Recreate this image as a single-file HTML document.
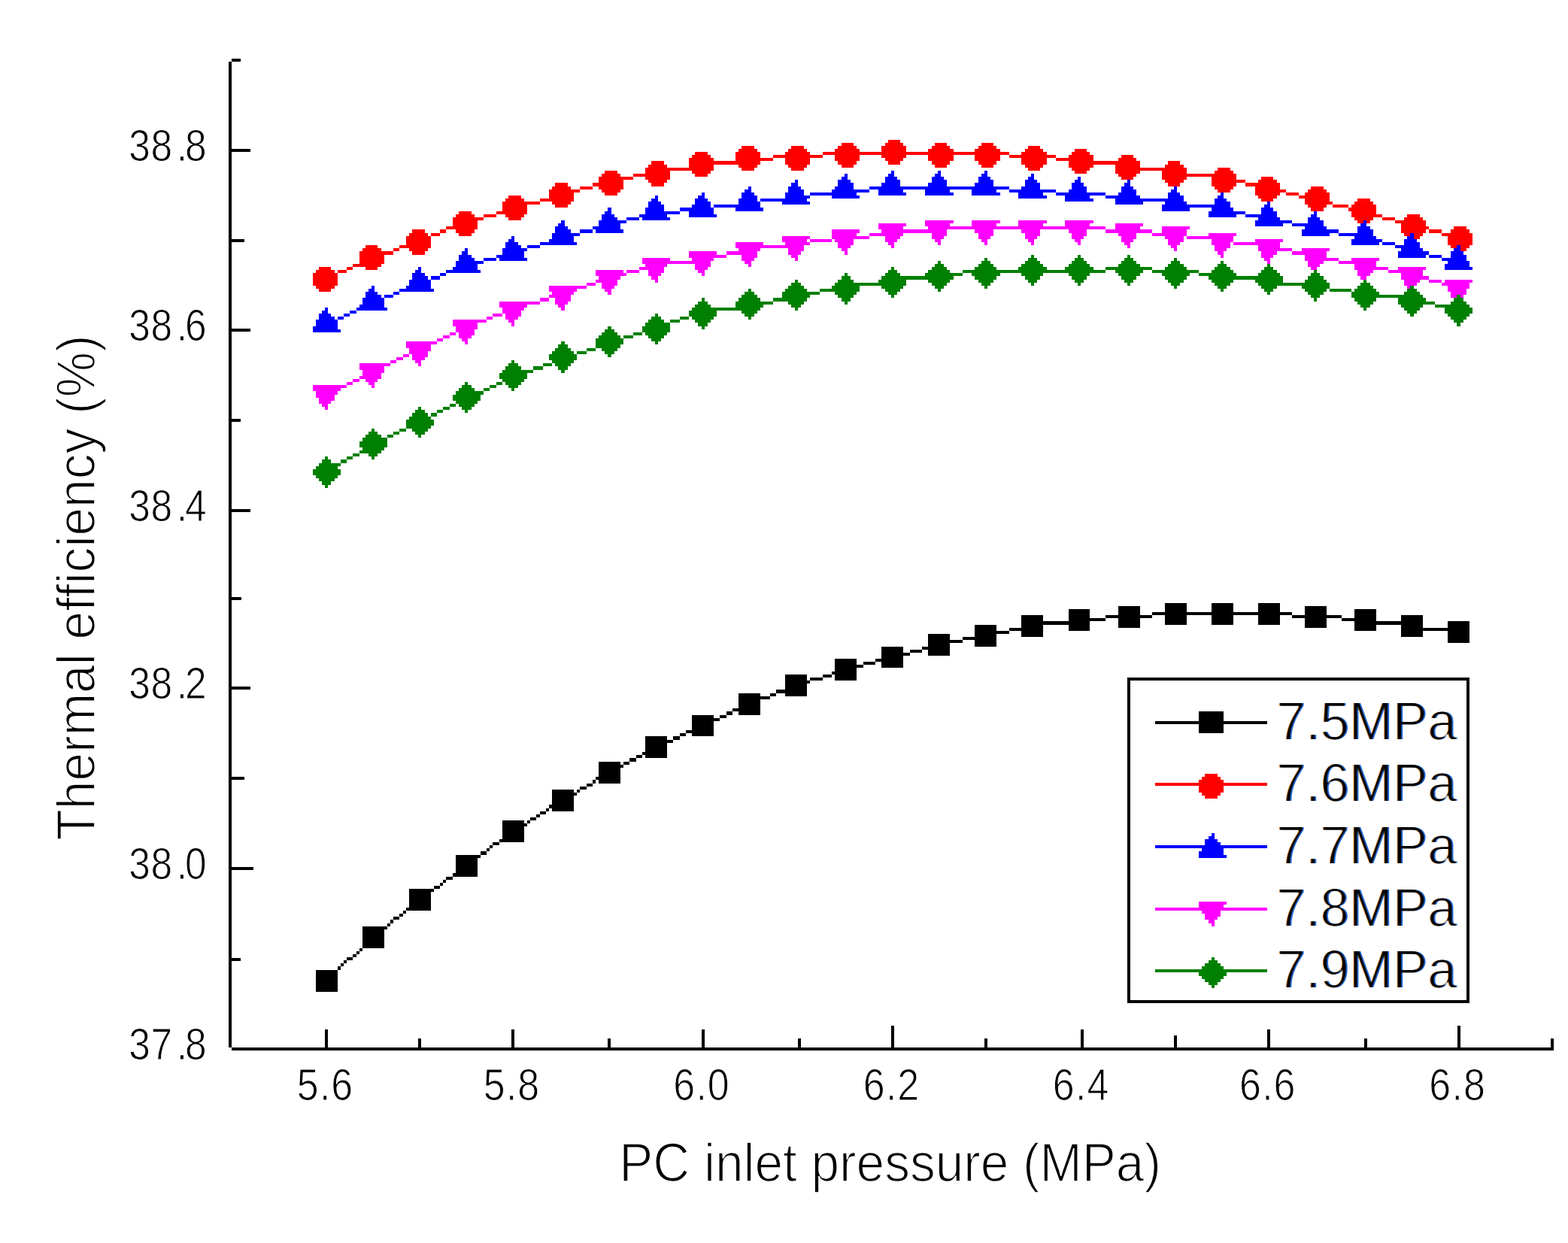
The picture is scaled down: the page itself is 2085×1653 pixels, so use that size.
<!DOCTYPE html>
<html><head><meta charset="utf-8"><title>Thermal efficiency vs PC inlet pressure</title>
<style>
html,body{margin:0;padding:0;background:#fff;}
body{width:2085px;height:1653px;overflow:hidden;}
svg{display:block;}
rect{shape-rendering:crispEdges;}
text{font-family:"Liberation Sans",Arial,sans-serif;fill:#000;stroke:#fff;stroke-width:1.1px;}
.tl{font-size:58.5px;}
.tx{font-size:59px;}
.at{font-size:71.4px;stroke-width:1.7px;}
.ay{font-size:72px;stroke-width:1.7px;}
.lg{font-size:71.8px;}
.cf{stroke:none;}
.co{fill:#e09a4c;}
.cb{fill:#3d8be0;}
.lk{stroke:none;}
</style></head>
<body>
<svg width="2085" height="1653" viewBox="0 0 2085 1653">
<defs><filter id="ct" x="-5%" y="-10%" width="110%" height="120%" color-interpolation-filters="sRGB">
<feMorphology in="SourceAlpha" operator="erode" radius="0.7" result="th"/>
<feOffset in="th" dx="-1.5" dy="0" result="l"/><feOffset in="th" dx="1.5" dy="0" result="r"/>
<feFlood flood-color="#c8741c" result="oc"/><feComposite in="oc" in2="l" operator="in" result="lo"/>
<feFlood flood-color="#1c64d0" result="bc"/><feComposite in="bc" in2="r" operator="in" result="rb"/>
<feBlend in="lo" in2="rb" mode="multiply" result="fr"/>
<feMorphology in="SourceAlpha" operator="erode" radius="1.2" result="core"/>
<feMerge><feMergeNode in="fr"/><feMergeNode in="core"/></feMerge></filter></defs>
<rect width="2085" height="1653" fill="#fff"/>
<rect x="304" y="82" width="4" height="1311" fill="#000"/>
<rect x="308" y="1393" width="1758" height="4" fill="#000"/>
<rect x="308" y="78.0" width="12.0" height="4" fill="#000"/>
<rect x="308" y="198.0" width="25.0" height="4" fill="#000"/>
<rect x="308" y="317.7" width="16.5" height="4" fill="#000"/>
<rect x="308" y="437.4" width="25.0" height="4" fill="#000"/>
<rect x="308" y="556.9" width="12.3" height="4" fill="#000"/>
<rect x="308" y="676.8" width="25.0" height="4" fill="#000"/>
<rect x="308" y="794.0" width="12.5" height="4" fill="#000"/>
<rect x="308" y="913.3" width="24.5" height="4" fill="#000"/>
<rect x="308" y="1033.0" width="16.5" height="4" fill="#000"/>
<rect x="308" y="1153.4" width="28.8" height="4" fill="#000"/>
<rect x="308" y="1273.5" width="12.3" height="4" fill="#000"/>
<rect x="432.0" y="1368.5" width="4" height="24.5" fill="#000"/>
<rect x="556.0" y="1381.0" width="4" height="12.0" fill="#000"/>
<rect x="680.0" y="1368.5" width="4" height="24.5" fill="#000"/>
<rect x="808.4" y="1381.0" width="4" height="12.0" fill="#000"/>
<rect x="932.5" y="1368.5" width="4" height="24.5" fill="#000"/>
<rect x="1060.9" y="1381.0" width="4" height="12.0" fill="#000"/>
<rect x="1185.0" y="1364.3" width="4" height="28.7" fill="#000"/>
<rect x="1309.0" y="1381.0" width="4" height="12.0" fill="#000"/>
<rect x="1437.1" y="1368.5" width="4" height="24.5" fill="#000"/>
<rect x="1561.1" y="1377.0" width="4" height="16.0" fill="#000"/>
<rect x="1685.2" y="1368.5" width="4" height="24.5" fill="#000"/>
<rect x="1813.5" y="1381.0" width="4" height="12.0" fill="#000"/>
<rect x="1937.6" y="1364.3" width="4" height="28.7" fill="#000"/>
<rect x="2062.0" y="1381.0" width="4" height="12.0" fill="#000"/>
<text transform="scale(0.88,1)" x="194.72 227.79 266.66 279.61" y="214.0" class="tl">38.8</text>
<text transform="scale(0.88,1)" x="194.72 227.79 266.66 279.61" y="453.4" class="tl">38.6</text>
<text transform="scale(0.88,1)" x="194.72 227.79 266.66 279.61" y="692.8" class="tl">38.4</text>
<text transform="scale(0.88,1)" x="194.72 227.79 266.66 279.61" y="929.3" class="tl">38.2</text>
<text transform="scale(0.88,1)" x="194.72 227.79 266.66 279.61" y="1169.4" class="tl">38.0</text>
<text transform="scale(0.88,1)" x="194.72 227.79 266.66 279.61" y="1409.0" class="tl">37.8</text>
<text transform="scale(0.88,1)" x="448.59 482.91 500.40" y="1463.5" class="tx">5.6</text>
<text transform="scale(0.88,1)" x="730.40 764.73 782.22" y="1463.5" class="tx">5.8</text>
<text transform="scale(0.88,1)" x="1017.34 1051.66 1069.15" y="1463.5" class="tx">6.0</text>
<text transform="scale(0.88,1)" x="1304.27 1338.59 1356.09" y="1463.5" class="tx">6.2</text>
<text transform="scale(0.88,1)" x="1590.75 1625.07 1642.56" y="1463.5" class="tx">6.4</text>
<text transform="scale(0.88,1)" x="1872.68 1907.00 1924.50" y="1463.5" class="tx">6.6</text>
<text transform="scale(0.88,1)" x="2159.50 2193.82 2211.31" y="1463.5" class="tx">6.8</text>
<text x="823.3" y="1570.6" class="at" textLength="720.6" lengthAdjust="spacingAndGlyphs">PC inlet pressure (MPa)</text>
<text transform="translate(125.9,1117.5) rotate(-90)" class="ay" textLength="672" lengthAdjust="spacingAndGlyphs">Thermal efficiency (%)</text>
<g fill="#000000"><rect x="1532" y="814" width="186" height="4"/><rect x="1470" y="818" width="62" height="4"/><rect x="1718" y="818" width="66" height="4"/><rect x="1421" y="822" width="49" height="4"/><rect x="1784" y="822" width="46" height="4"/><rect x="1387" y="826" width="34" height="5"/><rect x="1830" y="826" width="33" height="5"/><rect x="1363" y="831" width="24" height="4"/><rect x="1863" y="831" width="29" height="4"/><rect x="1342" y="835" width="21" height="4"/><rect x="1892" y="835" width="33" height="4"/><rect x="1321" y="839" width="21" height="4"/><rect x="1925" y="839" width="17" height="4"/><rect x="1301" y="843" width="20" height="4"/><rect x="1280" y="847" width="21" height="4"/><rect x="1259" y="851" width="21" height="4"/><rect x="1243" y="855" width="16" height="5"/><rect x="1226" y="860" width="17" height="4"/><rect x="1210" y="864" width="16" height="4"/><rect x="1193" y="868" width="17" height="4"/><rect x="1181" y="872" width="12" height="4"/><rect x="1164" y="876" width="17" height="4"/><rect x="1148" y="880" width="16" height="4"/><rect x="1131" y="884" width="17" height="4"/><rect x="1119" y="888" width="12" height="5"/><rect x="1106" y="893" width="13" height="4"/><rect x="1094" y="897" width="12" height="4"/><rect x="1077" y="901" width="17" height="4"/><rect x="1065" y="905" width="12" height="4"/><rect x="1052" y="909" width="13" height="4"/><rect x="1044" y="913" width="8" height="4"/><rect x="1032" y="917" width="12" height="5"/><rect x="1024" y="922" width="8" height="4"/><rect x="1011" y="926" width="13" height="4"/><rect x="1003" y="930" width="8" height="4"/><rect x="990" y="934" width="13" height="4"/><rect x="982" y="938" width="8" height="4"/><rect x="974" y="942" width="8" height="4"/><rect x="966" y="946" width="8" height="5"/><rect x="957" y="951" width="9" height="4"/><rect x="949" y="955" width="8" height="4"/><rect x="941" y="959" width="8" height="4"/><rect x="928" y="963" width="13" height="4"/><rect x="920" y="967" width="8" height="4"/><rect x="912" y="971" width="8" height="4"/><rect x="904" y="975" width="8" height="4"/><rect x="895" y="979" width="9" height="5"/><rect x="887" y="984" width="8" height="4"/><rect x="879" y="988" width="8" height="4"/><rect x="871" y="992" width="8" height="4"/><rect x="862" y="996" width="9" height="4"/><rect x="854" y="1000" width="8" height="4"/><rect x="846" y="1004" width="8" height="4"/><rect x="837" y="1008" width="9" height="5"/><rect x="829" y="1013" width="8" height="4"/><rect x="821" y="1017" width="8" height="4"/><rect x="813" y="1021" width="8" height="4"/><rect x="808" y="1025" width="5" height="4"/><rect x="800" y="1029" width="8" height="4"/><rect x="792" y="1033" width="8" height="4"/><rect x="788" y="1037" width="4" height="5"/><rect x="780" y="1042" width="8" height="4"/><rect x="771" y="1046" width="9" height="4"/><rect x="767" y="1050" width="4" height="4"/><rect x="759" y="1054" width="8" height="4"/><rect x="751" y="1058" width="8" height="4"/><rect x="746" y="1062" width="5" height="4"/><rect x="738" y="1066" width="8" height="4"/><rect x="730" y="1070" width="8" height="5"/><rect x="726" y="1075" width="4" height="4"/><rect x="718" y="1079" width="8" height="4"/><rect x="713" y="1083" width="5" height="4"/><rect x="705" y="1087" width="8" height="4"/><rect x="701" y="1091" width="4" height="4"/><rect x="693" y="1095" width="8" height="4"/><rect x="684" y="1099" width="9" height="5"/><rect x="680" y="1104" width="4" height="4"/><rect x="672" y="1108" width="8" height="4"/><rect x="668" y="1112" width="4" height="4"/><rect x="664" y="1116" width="4" height="4"/><rect x="655" y="1120" width="9" height="4"/><rect x="651" y="1124" width="4" height="4"/><rect x="647" y="1128" width="4" height="4"/><rect x="639" y="1132" width="8" height="5"/><rect x="635" y="1137" width="4" height="4"/><rect x="631" y="1141" width="4" height="4"/><rect x="622" y="1145" width="9" height="4"/><rect x="618" y="1149" width="4" height="4"/><rect x="610" y="1153" width="8" height="4"/><rect x="606" y="1157" width="4" height="4"/><rect x="602" y="1161" width="4" height="5"/><rect x="593" y="1166" width="9" height="4"/><rect x="589" y="1170" width="4" height="4"/><rect x="585" y="1174" width="4" height="4"/><rect x="577" y="1178" width="8" height="4"/><rect x="573" y="1182" width="4" height="4"/><rect x="569" y="1186" width="4" height="4"/><rect x="560" y="1190" width="9" height="5"/><rect x="556" y="1195" width="4" height="4"/><rect x="552" y="1199" width="4" height="4"/><rect x="544" y="1203" width="8" height="4"/><rect x="540" y="1207" width="4" height="4"/><rect x="536" y="1211" width="4" height="4"/><rect x="531" y="1215" width="5" height="4"/><rect x="523" y="1219" width="8" height="4"/><rect x="519" y="1223" width="4" height="5"/><rect x="515" y="1228" width="4" height="4"/><rect x="511" y="1232" width="4" height="4"/><rect x="502" y="1236" width="9" height="4"/><rect x="498" y="1240" width="4" height="4"/><rect x="494" y="1244" width="4" height="4"/><rect x="490" y="1248" width="4" height="4"/><rect x="486" y="1252" width="4" height="5"/><rect x="482" y="1257" width="4" height="4"/><rect x="478" y="1261" width="4" height="4"/><rect x="474" y="1265" width="4" height="4"/><rect x="469" y="1269" width="5" height="4"/><rect x="461" y="1273" width="8" height="4"/><rect x="457" y="1277" width="4" height="4"/><rect x="453" y="1281" width="4" height="4"/><rect x="449" y="1285" width="4" height="5"/><rect x="445" y="1290" width="4" height="4"/><rect x="440" y="1294" width="5" height="4"/><rect x="436" y="1298" width="4" height="4"/><rect x="432" y="1302" width="4" height="4"/></g>
<g fill="#000000"><rect x="1549" y="802" width="29" height="4"/><rect x="1611" y="802" width="29" height="4"/><rect x="1673" y="802" width="29" height="4"/><rect x="1487" y="806" width="29" height="4"/><rect x="1549" y="806" width="29" height="4"/><rect x="1611" y="806" width="29" height="4"/><rect x="1673" y="806" width="29" height="4"/><rect x="1735" y="806" width="29" height="4"/><rect x="1421" y="810" width="28" height="4"/><rect x="1487" y="810" width="29" height="4"/><rect x="1549" y="810" width="29" height="4"/><rect x="1611" y="810" width="29" height="4"/><rect x="1673" y="810" width="29" height="4"/><rect x="1735" y="810" width="29" height="4"/><rect x="1801" y="810" width="29" height="4"/><rect x="1421" y="814" width="28" height="4"/><rect x="1487" y="814" width="29" height="4"/><rect x="1549" y="814" width="29" height="4"/><rect x="1611" y="814" width="29" height="4"/><rect x="1673" y="814" width="29" height="4"/><rect x="1735" y="814" width="29" height="4"/><rect x="1801" y="814" width="29" height="4"/><rect x="1358" y="818" width="29" height="4"/><rect x="1421" y="818" width="28" height="4"/><rect x="1487" y="818" width="29" height="4"/><rect x="1549" y="818" width="29" height="4"/><rect x="1611" y="818" width="29" height="4"/><rect x="1673" y="818" width="29" height="4"/><rect x="1735" y="818" width="29" height="4"/><rect x="1801" y="818" width="29" height="4"/><rect x="1863" y="818" width="29" height="4"/><rect x="1358" y="822" width="29" height="4"/><rect x="1421" y="822" width="28" height="4"/><rect x="1487" y="822" width="29" height="4"/><rect x="1549" y="822" width="29" height="4"/><rect x="1611" y="822" width="29" height="4"/><rect x="1673" y="822" width="29" height="4"/><rect x="1735" y="822" width="29" height="4"/><rect x="1801" y="822" width="29" height="4"/><rect x="1863" y="822" width="29" height="4"/><rect x="1358" y="826" width="29" height="5"/><rect x="1421" y="826" width="28" height="5"/><rect x="1487" y="826" width="29" height="5"/><rect x="1549" y="826" width="29" height="5"/><rect x="1611" y="826" width="29" height="5"/><rect x="1673" y="826" width="29" height="5"/><rect x="1735" y="826" width="29" height="5"/><rect x="1801" y="826" width="29" height="5"/><rect x="1863" y="826" width="29" height="5"/><rect x="1925" y="826" width="29" height="5"/><rect x="1296" y="831" width="29" height="4"/><rect x="1358" y="831" width="29" height="4"/><rect x="1421" y="831" width="28" height="4"/><rect x="1487" y="831" width="29" height="4"/><rect x="1735" y="831" width="29" height="4"/><rect x="1801" y="831" width="29" height="4"/><rect x="1863" y="831" width="29" height="4"/><rect x="1925" y="831" width="29" height="4"/><rect x="1296" y="835" width="29" height="4"/><rect x="1358" y="835" width="29" height="4"/><rect x="1421" y="835" width="28" height="4"/><rect x="1801" y="835" width="29" height="4"/><rect x="1863" y="835" width="29" height="4"/><rect x="1925" y="835" width="29" height="4"/><rect x="1296" y="839" width="29" height="4"/><rect x="1358" y="839" width="29" height="4"/><rect x="1863" y="839" width="29" height="4"/><rect x="1925" y="839" width="29" height="4"/><rect x="1234" y="843" width="29" height="4"/><rect x="1296" y="843" width="29" height="4"/><rect x="1358" y="843" width="29" height="4"/><rect x="1863" y="843" width="29" height="4"/><rect x="1925" y="843" width="29" height="4"/><rect x="1234" y="847" width="29" height="4"/><rect x="1296" y="847" width="29" height="4"/><rect x="1925" y="847" width="29" height="4"/><rect x="1234" y="851" width="29" height="4"/><rect x="1296" y="851" width="29" height="4"/><rect x="1925" y="851" width="29" height="4"/><rect x="1234" y="855" width="29" height="5"/><rect x="1296" y="855" width="29" height="5"/><rect x="1172" y="860" width="29" height="4"/><rect x="1234" y="860" width="29" height="4"/><rect x="1172" y="864" width="29" height="4"/><rect x="1234" y="864" width="29" height="4"/><rect x="1172" y="868" width="29" height="4"/><rect x="1234" y="868" width="29" height="4"/><rect x="1172" y="872" width="29" height="4"/><rect x="1110" y="876" width="29" height="4"/><rect x="1172" y="876" width="29" height="4"/><rect x="1110" y="880" width="29" height="4"/><rect x="1172" y="880" width="29" height="4"/><rect x="1110" y="884" width="29" height="4"/><rect x="1172" y="884" width="29" height="4"/><rect x="1110" y="888" width="29" height="5"/><rect x="1110" y="893" width="29" height="4"/><rect x="1044" y="897" width="29" height="4"/><rect x="1110" y="897" width="29" height="4"/><rect x="1044" y="901" width="29" height="4"/><rect x="1110" y="901" width="29" height="4"/><rect x="1044" y="905" width="29" height="4"/><rect x="1044" y="909" width="29" height="4"/><rect x="1044" y="913" width="29" height="4"/><rect x="1044" y="917" width="29" height="5"/><rect x="982" y="922" width="29" height="4"/><rect x="1044" y="922" width="29" height="4"/><rect x="982" y="926" width="29" height="4"/><rect x="982" y="930" width="29" height="4"/><rect x="982" y="934" width="29" height="4"/><rect x="982" y="938" width="29" height="4"/><rect x="982" y="942" width="29" height="4"/><rect x="982" y="946" width="29" height="5"/><rect x="920" y="951" width="29" height="4"/><rect x="920" y="955" width="29" height="4"/><rect x="920" y="959" width="29" height="4"/><rect x="920" y="963" width="29" height="4"/><rect x="920" y="967" width="29" height="4"/><rect x="920" y="971" width="29" height="4"/><rect x="920" y="975" width="29" height="4"/><rect x="858" y="979" width="29" height="5"/><rect x="858" y="984" width="29" height="4"/><rect x="858" y="988" width="29" height="4"/><rect x="858" y="992" width="29" height="4"/><rect x="858" y="996" width="29" height="4"/><rect x="858" y="1000" width="29" height="4"/><rect x="858" y="1004" width="29" height="4"/><rect x="796" y="1013" width="29" height="4"/><rect x="796" y="1017" width="29" height="4"/><rect x="796" y="1021" width="29" height="4"/><rect x="796" y="1025" width="29" height="4"/><rect x="796" y="1029" width="29" height="4"/><rect x="796" y="1033" width="29" height="4"/><rect x="796" y="1037" width="29" height="5"/><rect x="734" y="1050" width="29" height="4"/><rect x="734" y="1054" width="29" height="4"/><rect x="734" y="1058" width="29" height="4"/><rect x="734" y="1062" width="29" height="4"/><rect x="734" y="1066" width="29" height="4"/><rect x="734" y="1070" width="29" height="5"/><rect x="734" y="1075" width="29" height="4"/><rect x="668" y="1091" width="29" height="4"/><rect x="668" y="1095" width="29" height="4"/><rect x="668" y="1099" width="29" height="5"/><rect x="668" y="1104" width="29" height="4"/><rect x="668" y="1108" width="29" height="4"/><rect x="668" y="1112" width="29" height="4"/><rect x="668" y="1116" width="29" height="4"/><rect x="606" y="1137" width="29" height="4"/><rect x="606" y="1141" width="29" height="4"/><rect x="606" y="1145" width="29" height="4"/><rect x="606" y="1149" width="29" height="4"/><rect x="606" y="1153" width="29" height="4"/><rect x="606" y="1157" width="29" height="4"/><rect x="606" y="1161" width="29" height="5"/><rect x="544" y="1182" width="29" height="4"/><rect x="544" y="1186" width="29" height="4"/><rect x="544" y="1190" width="29" height="5"/><rect x="544" y="1195" width="29" height="4"/><rect x="544" y="1199" width="29" height="4"/><rect x="544" y="1203" width="29" height="4"/><rect x="544" y="1207" width="29" height="4"/><rect x="482" y="1232" width="29" height="4"/><rect x="482" y="1236" width="29" height="4"/><rect x="482" y="1240" width="29" height="4"/><rect x="482" y="1244" width="29" height="4"/><rect x="482" y="1248" width="29" height="4"/><rect x="482" y="1252" width="29" height="5"/><rect x="482" y="1257" width="29" height="4"/><rect x="420" y="1290" width="29" height="4"/><rect x="420" y="1294" width="29" height="4"/><rect x="420" y="1298" width="29" height="4"/><rect x="420" y="1302" width="29" height="4"/><rect x="420" y="1306" width="29" height="4"/><rect x="420" y="1310" width="29" height="4"/><rect x="420" y="1314" width="29" height="5"/></g>
<g fill="#ff0000"><rect x="1094" y="202" width="248" height="4"/><rect x="1028" y="206" width="66" height="4"/><rect x="1342" y="206" width="62" height="4"/><rect x="982" y="210" width="46" height="4"/><rect x="1404" y="210" width="50" height="4"/><rect x="949" y="214" width="33" height="5"/><rect x="1454" y="214" width="29" height="5"/><rect x="920" y="219" width="29" height="4"/><rect x="1483" y="219" width="33" height="4"/><rect x="887" y="223" width="33" height="4"/><rect x="1516" y="223" width="33" height="4"/><rect x="862" y="227" width="25" height="4"/><rect x="1549" y="227" width="29" height="4"/><rect x="842" y="231" width="20" height="4"/><rect x="1578" y="231" width="33" height="4"/><rect x="821" y="235" width="21" height="4"/><rect x="1611" y="235" width="25" height="4"/><rect x="804" y="239" width="17" height="4"/><rect x="1636" y="239" width="20" height="4"/><rect x="788" y="243" width="16" height="5"/><rect x="1656" y="243" width="21" height="5"/><rect x="771" y="248" width="17" height="4"/><rect x="1677" y="248" width="16" height="4"/><rect x="755" y="252" width="16" height="4"/><rect x="1693" y="252" width="17" height="4"/><rect x="742" y="256" width="13" height="4"/><rect x="1710" y="256" width="17" height="4"/><rect x="730" y="260" width="12" height="4"/><rect x="1727" y="260" width="16" height="4"/><rect x="718" y="264" width="12" height="4"/><rect x="1743" y="264" width="17" height="4"/><rect x="701" y="268" width="17" height="4"/><rect x="1760" y="268" width="12" height="4"/><rect x="689" y="272" width="12" height="4"/><rect x="1772" y="272" width="21" height="4"/><rect x="676" y="276" width="13" height="5"/><rect x="1793" y="276" width="12" height="5"/><rect x="660" y="281" width="16" height="4"/><rect x="1805" y="281" width="17" height="4"/><rect x="643" y="285" width="17" height="4"/><rect x="1822" y="285" width="16" height="4"/><rect x="627" y="289" width="16" height="4"/><rect x="1838" y="289" width="17" height="4"/><rect x="614" y="293" width="13" height="4"/><rect x="1855" y="293" width="16" height="4"/><rect x="606" y="297" width="8" height="4"/><rect x="1871" y="297" width="13" height="4"/><rect x="593" y="301" width="13" height="4"/><rect x="1884" y="301" width="16" height="4"/><rect x="585" y="305" width="8" height="5"/><rect x="1900" y="305" width="17" height="5"/><rect x="573" y="310" width="12" height="4"/><rect x="1917" y="310" width="16" height="4"/><rect x="565" y="314" width="8" height="4"/><rect x="1933" y="314" width="9" height="4"/><rect x="552" y="318" width="13" height="4"/><rect x="544" y="322" width="8" height="4"/><rect x="531" y="326" width="13" height="4"/><rect x="523" y="330" width="8" height="4"/><rect x="511" y="334" width="12" height="5"/><rect x="502" y="339" width="9" height="4"/><rect x="490" y="343" width="12" height="4"/><rect x="482" y="347" width="8" height="4"/><rect x="469" y="351" width="13" height="4"/><rect x="461" y="355" width="8" height="4"/><rect x="449" y="359" width="12" height="4"/><rect x="440" y="363" width="9" height="4"/><rect x="432" y="367" width="8" height="5"/></g>
<g fill="#ff0000"><rect x="1181" y="186" width="16" height="4"/><rect x="1119" y="190" width="16" height="4"/><rect x="1177" y="190" width="24" height="4"/><rect x="1243" y="190" width="16" height="4"/><rect x="1305" y="190" width="16" height="4"/><rect x="986" y="194" width="17" height="4"/><rect x="1052" y="194" width="17" height="4"/><rect x="1114" y="194" width="25" height="4"/><rect x="1172" y="194" width="33" height="4"/><rect x="1239" y="194" width="24" height="4"/><rect x="1301" y="194" width="24" height="4"/><rect x="1367" y="194" width="16" height="4"/><rect x="982" y="198" width="25" height="4"/><rect x="1048" y="198" width="25" height="4"/><rect x="1110" y="198" width="33" height="4"/><rect x="1172" y="198" width="33" height="4"/><rect x="1234" y="198" width="34" height="4"/><rect x="1296" y="198" width="34" height="4"/><rect x="1363" y="198" width="24" height="4"/><rect x="1429" y="198" width="16" height="4"/><rect x="924" y="202" width="17" height="4"/><rect x="978" y="202" width="33" height="4"/><rect x="1044" y="202" width="33" height="4"/><rect x="1110" y="202" width="33" height="4"/><rect x="1172" y="202" width="33" height="4"/><rect x="1234" y="202" width="34" height="4"/><rect x="1296" y="202" width="34" height="4"/><rect x="1358" y="202" width="34" height="4"/><rect x="1425" y="202" width="24" height="4"/><rect x="920" y="206" width="25" height="4"/><rect x="978" y="206" width="33" height="4"/><rect x="1044" y="206" width="33" height="4"/><rect x="1110" y="206" width="33" height="4"/><rect x="1172" y="206" width="33" height="4"/><rect x="1234" y="206" width="34" height="4"/><rect x="1296" y="206" width="34" height="4"/><rect x="1358" y="206" width="34" height="4"/><rect x="1421" y="206" width="33" height="4"/><rect x="1491" y="206" width="16" height="4"/><rect x="916" y="210" width="33" height="4"/><rect x="978" y="210" width="33" height="4"/><rect x="1044" y="210" width="33" height="4"/><rect x="1110" y="210" width="33" height="4"/><rect x="1177" y="210" width="24" height="4"/><rect x="1234" y="210" width="34" height="4"/><rect x="1296" y="210" width="34" height="4"/><rect x="1358" y="210" width="34" height="4"/><rect x="1421" y="210" width="33" height="4"/><rect x="1487" y="210" width="24" height="4"/><rect x="866" y="214" width="17" height="5"/><rect x="916" y="214" width="33" height="5"/><rect x="978" y="214" width="33" height="5"/><rect x="1044" y="214" width="33" height="5"/><rect x="1114" y="214" width="25" height="5"/><rect x="1181" y="214" width="16" height="5"/><rect x="1239" y="214" width="24" height="5"/><rect x="1301" y="214" width="24" height="5"/><rect x="1358" y="214" width="34" height="5"/><rect x="1421" y="214" width="33" height="5"/><rect x="1483" y="214" width="33" height="5"/><rect x="1553" y="214" width="16" height="5"/><rect x="862" y="219" width="25" height="4"/><rect x="916" y="219" width="33" height="4"/><rect x="982" y="219" width="25" height="4"/><rect x="1048" y="219" width="25" height="4"/><rect x="1119" y="219" width="16" height="4"/><rect x="1243" y="219" width="16" height="4"/><rect x="1305" y="219" width="16" height="4"/><rect x="1363" y="219" width="24" height="4"/><rect x="1421" y="219" width="33" height="4"/><rect x="1483" y="219" width="33" height="4"/><rect x="1549" y="219" width="25" height="4"/><rect x="858" y="223" width="33" height="4"/><rect x="916" y="223" width="33" height="4"/><rect x="986" y="223" width="17" height="4"/><rect x="1052" y="223" width="17" height="4"/><rect x="1367" y="223" width="16" height="4"/><rect x="1425" y="223" width="24" height="4"/><rect x="1483" y="223" width="33" height="4"/><rect x="1545" y="223" width="33" height="4"/><rect x="1619" y="223" width="17" height="4"/><rect x="804" y="227" width="17" height="4"/><rect x="858" y="227" width="33" height="4"/><rect x="920" y="227" width="25" height="4"/><rect x="1429" y="227" width="16" height="4"/><rect x="1483" y="227" width="33" height="4"/><rect x="1545" y="227" width="33" height="4"/><rect x="1615" y="227" width="25" height="4"/><rect x="800" y="231" width="25" height="4"/><rect x="858" y="231" width="33" height="4"/><rect x="924" y="231" width="17" height="4"/><rect x="1487" y="231" width="24" height="4"/><rect x="1545" y="231" width="33" height="4"/><rect x="1611" y="231" width="33" height="4"/><rect x="796" y="235" width="33" height="4"/><rect x="858" y="235" width="33" height="4"/><rect x="1491" y="235" width="16" height="4"/><rect x="1545" y="235" width="33" height="4"/><rect x="1611" y="235" width="33" height="4"/><rect x="1677" y="235" width="16" height="4"/><rect x="796" y="239" width="33" height="4"/><rect x="862" y="239" width="25" height="4"/><rect x="1549" y="239" width="25" height="4"/><rect x="1611" y="239" width="33" height="4"/><rect x="1673" y="239" width="25" height="4"/><rect x="738" y="243" width="17" height="5"/><rect x="796" y="243" width="33" height="5"/><rect x="866" y="243" width="17" height="5"/><rect x="1553" y="243" width="16" height="5"/><rect x="1611" y="243" width="33" height="5"/><rect x="1669" y="243" width="33" height="5"/><rect x="734" y="248" width="25" height="4"/><rect x="796" y="248" width="33" height="4"/><rect x="1615" y="248" width="25" height="4"/><rect x="1669" y="248" width="33" height="4"/><rect x="1743" y="248" width="17" height="4"/><rect x="730" y="252" width="33" height="4"/><rect x="800" y="252" width="25" height="4"/><rect x="1619" y="252" width="17" height="4"/><rect x="1669" y="252" width="33" height="4"/><rect x="1739" y="252" width="25" height="4"/><rect x="730" y="256" width="33" height="4"/><rect x="804" y="256" width="17" height="4"/><rect x="1669" y="256" width="33" height="4"/><rect x="1735" y="256" width="33" height="4"/><rect x="676" y="260" width="17" height="4"/><rect x="730" y="260" width="33" height="4"/><rect x="1673" y="260" width="25" height="4"/><rect x="1735" y="260" width="33" height="4"/><rect x="672" y="264" width="25" height="4"/><rect x="730" y="264" width="33" height="4"/><rect x="1677" y="264" width="16" height="4"/><rect x="1735" y="264" width="33" height="4"/><rect x="1805" y="264" width="17" height="4"/><rect x="668" y="268" width="33" height="4"/><rect x="734" y="268" width="25" height="4"/><rect x="1735" y="268" width="33" height="4"/><rect x="1801" y="268" width="25" height="4"/><rect x="668" y="272" width="33" height="4"/><rect x="738" y="272" width="17" height="4"/><rect x="1739" y="272" width="25" height="4"/><rect x="1797" y="272" width="33" height="4"/><rect x="668" y="276" width="33" height="5"/><rect x="1743" y="276" width="17" height="5"/><rect x="1797" y="276" width="33" height="5"/><rect x="610" y="281" width="17" height="4"/><rect x="668" y="281" width="33" height="4"/><rect x="1797" y="281" width="33" height="4"/><rect x="606" y="285" width="25" height="4"/><rect x="672" y="285" width="25" height="4"/><rect x="1797" y="285" width="33" height="4"/><rect x="1871" y="285" width="17" height="4"/><rect x="602" y="289" width="33" height="4"/><rect x="676" y="289" width="17" height="4"/><rect x="1801" y="289" width="25" height="4"/><rect x="1867" y="289" width="25" height="4"/><rect x="602" y="293" width="33" height="4"/><rect x="1805" y="293" width="17" height="4"/><rect x="1863" y="293" width="33" height="4"/><rect x="602" y="297" width="33" height="4"/><rect x="1863" y="297" width="33" height="4"/><rect x="602" y="301" width="33" height="4"/><rect x="1863" y="301" width="33" height="4"/><rect x="1933" y="301" width="17" height="4"/><rect x="548" y="305" width="17" height="5"/><rect x="606" y="305" width="25" height="5"/><rect x="1863" y="305" width="33" height="5"/><rect x="1929" y="305" width="25" height="5"/><rect x="544" y="310" width="25" height="4"/><rect x="610" y="310" width="17" height="4"/><rect x="1867" y="310" width="25" height="4"/><rect x="1925" y="310" width="33" height="4"/><rect x="540" y="314" width="33" height="4"/><rect x="1871" y="314" width="17" height="4"/><rect x="1925" y="314" width="33" height="4"/><rect x="540" y="318" width="33" height="4"/><rect x="1925" y="318" width="33" height="4"/><rect x="540" y="322" width="33" height="4"/><rect x="1925" y="322" width="33" height="4"/><rect x="486" y="326" width="16" height="4"/><rect x="540" y="326" width="33" height="4"/><rect x="1929" y="326" width="25" height="4"/><rect x="482" y="330" width="25" height="4"/><rect x="544" y="330" width="25" height="4"/><rect x="1933" y="330" width="17" height="4"/><rect x="478" y="334" width="33" height="5"/><rect x="548" y="334" width="17" height="5"/><rect x="478" y="339" width="33" height="4"/><rect x="478" y="343" width="33" height="4"/><rect x="478" y="347" width="33" height="4"/><rect x="482" y="351" width="25" height="4"/><rect x="424" y="355" width="16" height="4"/><rect x="486" y="355" width="16" height="4"/><rect x="420" y="359" width="25" height="4"/><rect x="416" y="363" width="33" height="4"/><rect x="416" y="367" width="33" height="5"/><rect x="416" y="372" width="33" height="4"/><rect x="416" y="376" width="33" height="4"/><rect x="420" y="380" width="25" height="4"/><rect x="424" y="384" width="16" height="4"/></g>
<g fill="#0000ff"><rect x="1156" y="248" width="186" height="4"/><rect x="1106" y="252" width="50" height="4"/><rect x="1342" y="252" width="62" height="4"/><rect x="1077" y="256" width="29" height="4"/><rect x="1404" y="256" width="66" height="4"/><rect x="1044" y="260" width="33" height="4"/><rect x="1470" y="260" width="46" height="4"/><rect x="1011" y="264" width="33" height="4"/><rect x="1516" y="264" width="33" height="4"/><rect x="982" y="268" width="29" height="4"/><rect x="1549" y="268" width="29" height="4"/><rect x="949" y="272" width="33" height="4"/><rect x="1578" y="272" width="33" height="4"/><rect x="904" y="276" width="45" height="5"/><rect x="1611" y="276" width="25" height="5"/><rect x="866" y="281" width="38" height="4"/><rect x="1636" y="281" width="20" height="4"/><rect x="850" y="285" width="16" height="4"/><rect x="1656" y="285" width="21" height="4"/><rect x="833" y="289" width="17" height="4"/><rect x="1677" y="289" width="21" height="4"/><rect x="817" y="293" width="16" height="4"/><rect x="1698" y="293" width="20" height="4"/><rect x="804" y="297" width="13" height="4"/><rect x="1718" y="297" width="21" height="4"/><rect x="788" y="301" width="16" height="4"/><rect x="1739" y="301" width="21" height="4"/><rect x="771" y="305" width="17" height="5"/><rect x="1760" y="305" width="20" height="5"/><rect x="755" y="310" width="16" height="4"/><rect x="1780" y="310" width="25" height="4"/><rect x="742" y="314" width="13" height="4"/><rect x="1805" y="314" width="17" height="4"/><rect x="730" y="318" width="12" height="4"/><rect x="1822" y="318" width="16" height="4"/><rect x="718" y="322" width="12" height="4"/><rect x="1838" y="322" width="17" height="4"/><rect x="701" y="326" width="17" height="4"/><rect x="1855" y="326" width="16" height="4"/><rect x="689" y="330" width="12" height="4"/><rect x="1871" y="330" width="13" height="4"/><rect x="676" y="334" width="13" height="5"/><rect x="1884" y="334" width="16" height="5"/><rect x="660" y="339" width="16" height="4"/><rect x="1900" y="339" width="17" height="4"/><rect x="643" y="343" width="17" height="4"/><rect x="1917" y="343" width="16" height="4"/><rect x="627" y="347" width="16" height="4"/><rect x="1933" y="347" width="9" height="4"/><rect x="614" y="351" width="13" height="4"/><rect x="606" y="355" width="8" height="4"/><rect x="593" y="359" width="13" height="4"/><rect x="585" y="363" width="8" height="4"/><rect x="573" y="367" width="12" height="5"/><rect x="565" y="372" width="8" height="4"/><rect x="552" y="376" width="13" height="4"/><rect x="544" y="380" width="8" height="4"/><rect x="531" y="384" width="13" height="4"/><rect x="523" y="388" width="8" height="4"/><rect x="511" y="392" width="12" height="4"/><rect x="502" y="396" width="9" height="5"/><rect x="490" y="401" width="12" height="4"/><rect x="482" y="405" width="8" height="4"/><rect x="474" y="409" width="8" height="4"/><rect x="465" y="413" width="9" height="4"/><rect x="457" y="417" width="8" height="4"/><rect x="449" y="421" width="8" height="4"/><rect x="440" y="425" width="9" height="4"/><rect x="432" y="429" width="8" height="5"/></g>
<g fill="#0000ff"><rect x="1185" y="227" width="4" height="4"/><rect x="1247" y="227" width="4" height="4"/><rect x="1309" y="227" width="4" height="4"/><rect x="1123" y="231" width="4" height="4"/><rect x="1181" y="231" width="8" height="4"/><rect x="1243" y="231" width="8" height="4"/><rect x="1305" y="231" width="8" height="4"/><rect x="1371" y="231" width="4" height="4"/><rect x="1119" y="235" width="8" height="4"/><rect x="1177" y="235" width="16" height="4"/><rect x="1239" y="235" width="16" height="4"/><rect x="1301" y="235" width="16" height="4"/><rect x="1367" y="235" width="8" height="4"/><rect x="1433" y="235" width="4" height="4"/><rect x="1057" y="239" width="4" height="4"/><rect x="1114" y="239" width="17" height="4"/><rect x="1177" y="239" width="20" height="4"/><rect x="1239" y="239" width="20" height="4"/><rect x="1301" y="239" width="20" height="4"/><rect x="1363" y="239" width="16" height="4"/><rect x="1429" y="239" width="8" height="4"/><rect x="1499" y="239" width="4" height="4"/><rect x="1052" y="243" width="9" height="5"/><rect x="1114" y="243" width="21" height="5"/><rect x="1172" y="243" width="25" height="5"/><rect x="1234" y="243" width="25" height="5"/><rect x="1296" y="243" width="25" height="5"/><rect x="1363" y="243" width="20" height="5"/><rect x="1425" y="243" width="16" height="5"/><rect x="1495" y="243" width="8" height="5"/><rect x="995" y="248" width="4" height="4"/><rect x="1048" y="248" width="17" height="4"/><rect x="1110" y="248" width="25" height="4"/><rect x="1172" y="248" width="29" height="4"/><rect x="1234" y="248" width="29" height="4"/><rect x="1296" y="248" width="29" height="4"/><rect x="1358" y="248" width="25" height="4"/><rect x="1425" y="248" width="20" height="4"/><rect x="1491" y="248" width="16" height="4"/><rect x="1561" y="248" width="4" height="4"/><rect x="990" y="252" width="9" height="4"/><rect x="1048" y="252" width="21" height="4"/><rect x="1110" y="252" width="29" height="4"/><rect x="1168" y="252" width="33" height="4"/><rect x="1230" y="252" width="33" height="4"/><rect x="1292" y="252" width="33" height="4"/><rect x="1358" y="252" width="29" height="4"/><rect x="1421" y="252" width="24" height="4"/><rect x="1491" y="252" width="20" height="4"/><rect x="1557" y="252" width="8" height="4"/><rect x="933" y="256" width="4" height="4"/><rect x="986" y="256" width="17" height="4"/><rect x="1044" y="256" width="25" height="4"/><rect x="1106" y="256" width="33" height="4"/><rect x="1168" y="256" width="37" height="4"/><rect x="1230" y="256" width="38" height="4"/><rect x="1292" y="256" width="38" height="4"/><rect x="1354" y="256" width="33" height="4"/><rect x="1421" y="256" width="28" height="4"/><rect x="1487" y="256" width="24" height="4"/><rect x="1553" y="256" width="16" height="4"/><rect x="1623" y="256" width="4" height="4"/><rect x="871" y="260" width="4" height="4"/><rect x="928" y="260" width="9" height="4"/><rect x="986" y="260" width="21" height="4"/><rect x="1044" y="260" width="29" height="4"/><rect x="1106" y="260" width="37" height="4"/><rect x="1354" y="260" width="38" height="4"/><rect x="1416" y="260" width="33" height="4"/><rect x="1487" y="260" width="29" height="4"/><rect x="1553" y="260" width="21" height="4"/><rect x="1619" y="260" width="8" height="4"/><rect x="866" y="264" width="9" height="4"/><rect x="924" y="264" width="17" height="4"/><rect x="982" y="264" width="25" height="4"/><rect x="1040" y="264" width="33" height="4"/><rect x="1416" y="264" width="38" height="4"/><rect x="1483" y="264" width="33" height="4"/><rect x="1549" y="264" width="25" height="4"/><rect x="1615" y="264" width="16" height="4"/><rect x="862" y="268" width="17" height="4"/><rect x="924" y="268" width="21" height="4"/><rect x="982" y="268" width="29" height="4"/><rect x="1040" y="268" width="37" height="4"/><rect x="1483" y="268" width="37" height="4"/><rect x="1549" y="268" width="29" height="4"/><rect x="1615" y="268" width="21" height="4"/><rect x="1685" y="268" width="4" height="4"/><rect x="862" y="272" width="21" height="4"/><rect x="920" y="272" width="25" height="4"/><rect x="978" y="272" width="33" height="4"/><rect x="1545" y="272" width="33" height="4"/><rect x="1611" y="272" width="25" height="4"/><rect x="1681" y="272" width="8" height="4"/><rect x="808" y="276" width="5" height="5"/><rect x="858" y="276" width="25" height="5"/><rect x="920" y="276" width="29" height="5"/><rect x="978" y="276" width="37" height="5"/><rect x="1545" y="276" width="37" height="5"/><rect x="1611" y="276" width="29" height="5"/><rect x="1677" y="276" width="16" height="5"/><rect x="804" y="281" width="9" height="4"/><rect x="858" y="281" width="29" height="4"/><rect x="916" y="281" width="33" height="4"/><rect x="1607" y="281" width="33" height="4"/><rect x="1677" y="281" width="21" height="4"/><rect x="1747" y="281" width="4" height="4"/><rect x="800" y="285" width="17" height="4"/><rect x="854" y="285" width="33" height="4"/><rect x="916" y="285" width="37" height="4"/><rect x="1607" y="285" width="37" height="4"/><rect x="1673" y="285" width="25" height="4"/><rect x="1743" y="285" width="8" height="4"/><rect x="800" y="289" width="21" height="4"/><rect x="854" y="289" width="37" height="4"/><rect x="1673" y="289" width="29" height="4"/><rect x="1739" y="289" width="16" height="4"/><rect x="746" y="293" width="5" height="4"/><rect x="796" y="293" width="25" height="4"/><rect x="1669" y="293" width="33" height="4"/><rect x="1739" y="293" width="21" height="4"/><rect x="1813" y="293" width="4" height="4"/><rect x="742" y="297" width="9" height="4"/><rect x="796" y="297" width="29" height="4"/><rect x="1669" y="297" width="37" height="4"/><rect x="1735" y="297" width="25" height="4"/><rect x="1809" y="297" width="8" height="4"/><rect x="738" y="301" width="17" height="4"/><rect x="792" y="301" width="33" height="4"/><rect x="1735" y="301" width="29" height="4"/><rect x="1805" y="301" width="17" height="4"/><rect x="738" y="305" width="21" height="5"/><rect x="792" y="305" width="37" height="5"/><rect x="1731" y="305" width="33" height="5"/><rect x="1805" y="305" width="21" height="5"/><rect x="734" y="310" width="25" height="4"/><rect x="1731" y="310" width="37" height="4"/><rect x="1801" y="310" width="25" height="4"/><rect x="1875" y="310" width="5" height="4"/><rect x="680" y="314" width="4" height="4"/><rect x="734" y="314" width="29" height="4"/><rect x="1801" y="314" width="29" height="4"/><rect x="1871" y="314" width="9" height="4"/><rect x="676" y="318" width="8" height="4"/><rect x="730" y="318" width="33" height="4"/><rect x="1797" y="318" width="33" height="4"/><rect x="1867" y="318" width="17" height="4"/><rect x="672" y="322" width="17" height="4"/><rect x="730" y="322" width="37" height="4"/><rect x="1797" y="322" width="37" height="4"/><rect x="1867" y="322" width="21" height="4"/><rect x="672" y="326" width="21" height="4"/><rect x="1863" y="326" width="25" height="4"/><rect x="1937" y="326" width="5" height="4"/><rect x="618" y="330" width="4" height="4"/><rect x="668" y="330" width="25" height="4"/><rect x="1863" y="330" width="29" height="4"/><rect x="1933" y="330" width="9" height="4"/><rect x="614" y="334" width="8" height="5"/><rect x="668" y="334" width="29" height="5"/><rect x="1859" y="334" width="33" height="5"/><rect x="1929" y="334" width="17" height="5"/><rect x="610" y="339" width="17" height="4"/><rect x="664" y="339" width="33" height="4"/><rect x="1859" y="339" width="37" height="4"/><rect x="1929" y="339" width="21" height="4"/><rect x="610" y="343" width="21" height="4"/><rect x="664" y="343" width="37" height="4"/><rect x="1925" y="343" width="25" height="4"/><rect x="606" y="347" width="25" height="4"/><rect x="1925" y="347" width="29" height="4"/><rect x="606" y="351" width="29" height="4"/><rect x="1921" y="351" width="33" height="4"/><rect x="556" y="355" width="4" height="4"/><rect x="602" y="355" width="33" height="4"/><rect x="1921" y="355" width="37" height="4"/><rect x="552" y="359" width="8" height="4"/><rect x="602" y="359" width="37" height="4"/><rect x="548" y="363" width="17" height="4"/><rect x="548" y="367" width="21" height="5"/><rect x="544" y="372" width="25" height="4"/><rect x="544" y="376" width="29" height="4"/><rect x="494" y="380" width="4" height="4"/><rect x="540" y="380" width="33" height="4"/><rect x="490" y="384" width="8" height="4"/><rect x="540" y="384" width="37" height="4"/><rect x="486" y="388" width="16" height="4"/><rect x="486" y="392" width="21" height="4"/><rect x="482" y="396" width="25" height="5"/><rect x="482" y="401" width="29" height="4"/><rect x="478" y="405" width="33" height="4"/><rect x="432" y="409" width="4" height="4"/><rect x="478" y="409" width="37" height="4"/><rect x="428" y="413" width="8" height="4"/><rect x="424" y="417" width="16" height="4"/><rect x="424" y="421" width="21" height="4"/><rect x="420" y="425" width="25" height="4"/><rect x="420" y="429" width="29" height="5"/><rect x="416" y="434" width="33" height="4"/><rect x="416" y="438" width="37" height="4"/></g>
<g fill="#ff00ff"><rect x="1234" y="301" width="236" height="4"/><rect x="1201" y="305" width="33" height="5"/><rect x="1470" y="305" width="62" height="5"/><rect x="1156" y="310" width="45" height="4"/><rect x="1532" y="310" width="46" height="4"/><rect x="1106" y="314" width="50" height="4"/><rect x="1578" y="314" width="33" height="4"/><rect x="1077" y="318" width="29" height="4"/><rect x="1611" y="318" width="29" height="4"/><rect x="1044" y="322" width="33" height="4"/><rect x="1640" y="322" width="33" height="4"/><rect x="1011" y="326" width="33" height="4"/><rect x="1673" y="326" width="25" height="4"/><rect x="986" y="330" width="25" height="4"/><rect x="1698" y="330" width="20" height="4"/><rect x="966" y="334" width="20" height="5"/><rect x="1718" y="334" width="21" height="5"/><rect x="945" y="339" width="21" height="4"/><rect x="1739" y="339" width="21" height="4"/><rect x="920" y="343" width="25" height="4"/><rect x="1760" y="343" width="20" height="4"/><rect x="887" y="347" width="33" height="4"/><rect x="1780" y="347" width="25" height="4"/><rect x="866" y="351" width="21" height="4"/><rect x="1805" y="351" width="21" height="4"/><rect x="850" y="355" width="16" height="4"/><rect x="1826" y="355" width="20" height="4"/><rect x="833" y="359" width="17" height="4"/><rect x="1846" y="359" width="21" height="4"/><rect x="817" y="363" width="16" height="4"/><rect x="1867" y="363" width="17" height="4"/><rect x="804" y="367" width="13" height="5"/><rect x="1884" y="367" width="16" height="5"/><rect x="792" y="372" width="12" height="4"/><rect x="1900" y="372" width="17" height="4"/><rect x="780" y="376" width="12" height="4"/><rect x="1917" y="376" width="16" height="4"/><rect x="767" y="380" width="13" height="4"/><rect x="1933" y="380" width="9" height="4"/><rect x="755" y="384" width="12" height="4"/><rect x="742" y="388" width="13" height="4"/><rect x="730" y="392" width="12" height="4"/><rect x="718" y="396" width="12" height="5"/><rect x="701" y="401" width="17" height="4"/><rect x="689" y="405" width="12" height="4"/><rect x="676" y="409" width="13" height="4"/><rect x="668" y="413" width="8" height="4"/><rect x="655" y="417" width="13" height="4"/><rect x="647" y="421" width="8" height="4"/><rect x="635" y="425" width="12" height="4"/><rect x="627" y="429" width="8" height="5"/><rect x="614" y="434" width="13" height="4"/><rect x="606" y="438" width="8" height="4"/><rect x="598" y="442" width="8" height="4"/><rect x="589" y="446" width="9" height="4"/><rect x="581" y="450" width="8" height="4"/><rect x="573" y="454" width="8" height="4"/><rect x="565" y="458" width="8" height="5"/><rect x="552" y="463" width="13" height="4"/><rect x="544" y="467" width="8" height="4"/><rect x="536" y="471" width="8" height="4"/><rect x="527" y="475" width="9" height="4"/><rect x="519" y="479" width="8" height="4"/><rect x="511" y="483" width="8" height="4"/><rect x="502" y="487" width="9" height="5"/><rect x="494" y="492" width="8" height="4"/><rect x="486" y="496" width="8" height="4"/><rect x="478" y="500" width="8" height="4"/><rect x="469" y="504" width="9" height="4"/><rect x="461" y="508" width="8" height="4"/><rect x="453" y="512" width="8" height="4"/><rect x="445" y="516" width="8" height="4"/><rect x="436" y="520" width="9" height="5"/><rect x="432" y="525" width="4" height="4"/></g>
<g fill="#ff00ff"><rect x="1230" y="293" width="38" height="4"/><rect x="1292" y="293" width="38" height="4"/><rect x="1354" y="293" width="38" height="4"/><rect x="1416" y="293" width="38" height="4"/><rect x="1168" y="297" width="37" height="4"/><rect x="1230" y="297" width="33" height="4"/><rect x="1292" y="297" width="33" height="4"/><rect x="1354" y="297" width="33" height="4"/><rect x="1416" y="297" width="33" height="4"/><rect x="1483" y="297" width="37" height="4"/><rect x="1168" y="301" width="33" height="4"/><rect x="1234" y="301" width="29" height="4"/><rect x="1296" y="301" width="29" height="4"/><rect x="1358" y="301" width="29" height="4"/><rect x="1421" y="301" width="28" height="4"/><rect x="1483" y="301" width="33" height="4"/><rect x="1545" y="301" width="37" height="4"/><rect x="1106" y="305" width="37" height="5"/><rect x="1172" y="305" width="29" height="5"/><rect x="1234" y="305" width="25" height="5"/><rect x="1296" y="305" width="25" height="5"/><rect x="1358" y="305" width="25" height="5"/><rect x="1421" y="305" width="24" height="5"/><rect x="1487" y="305" width="29" height="5"/><rect x="1545" y="305" width="33" height="5"/><rect x="1106" y="310" width="33" height="4"/><rect x="1172" y="310" width="25" height="4"/><rect x="1239" y="310" width="20" height="4"/><rect x="1301" y="310" width="20" height="4"/><rect x="1363" y="310" width="20" height="4"/><rect x="1425" y="310" width="20" height="4"/><rect x="1487" y="310" width="24" height="4"/><rect x="1549" y="310" width="29" height="4"/><rect x="1607" y="310" width="37" height="4"/><rect x="1040" y="314" width="37" height="4"/><rect x="1110" y="314" width="29" height="4"/><rect x="1177" y="314" width="20" height="4"/><rect x="1239" y="314" width="16" height="4"/><rect x="1301" y="314" width="16" height="4"/><rect x="1363" y="314" width="16" height="4"/><rect x="1425" y="314" width="16" height="4"/><rect x="1491" y="314" width="20" height="4"/><rect x="1549" y="314" width="25" height="4"/><rect x="1607" y="314" width="33" height="4"/><rect x="1040" y="318" width="33" height="4"/><rect x="1110" y="318" width="25" height="4"/><rect x="1177" y="318" width="16" height="4"/><rect x="1243" y="318" width="8" height="4"/><rect x="1305" y="318" width="8" height="4"/><rect x="1367" y="318" width="8" height="4"/><rect x="1429" y="318" width="8" height="4"/><rect x="1491" y="318" width="16" height="4"/><rect x="1553" y="318" width="21" height="4"/><rect x="1611" y="318" width="29" height="4"/><rect x="1669" y="318" width="37" height="4"/><rect x="978" y="322" width="37" height="4"/><rect x="1044" y="322" width="29" height="4"/><rect x="1114" y="322" width="21" height="4"/><rect x="1181" y="322" width="8" height="4"/><rect x="1247" y="322" width="4" height="4"/><rect x="1309" y="322" width="4" height="4"/><rect x="1371" y="322" width="4" height="4"/><rect x="1433" y="322" width="4" height="4"/><rect x="1495" y="322" width="8" height="4"/><rect x="1553" y="322" width="16" height="4"/><rect x="1611" y="322" width="25" height="4"/><rect x="1669" y="322" width="33" height="4"/><rect x="978" y="326" width="33" height="4"/><rect x="1044" y="326" width="25" height="4"/><rect x="1114" y="326" width="17" height="4"/><rect x="1185" y="326" width="4" height="4"/><rect x="1499" y="326" width="4" height="4"/><rect x="1557" y="326" width="8" height="4"/><rect x="1615" y="326" width="21" height="4"/><rect x="1673" y="326" width="29" height="4"/><rect x="982" y="330" width="29" height="4"/><rect x="1048" y="330" width="21" height="4"/><rect x="1119" y="330" width="8" height="4"/><rect x="1561" y="330" width="4" height="4"/><rect x="1615" y="330" width="16" height="4"/><rect x="1673" y="330" width="25" height="4"/><rect x="1731" y="330" width="37" height="4"/><rect x="916" y="334" width="37" height="5"/><rect x="982" y="334" width="25" height="5"/><rect x="1048" y="334" width="17" height="5"/><rect x="1123" y="334" width="4" height="5"/><rect x="1619" y="334" width="8" height="5"/><rect x="1677" y="334" width="21" height="5"/><rect x="1731" y="334" width="33" height="5"/><rect x="916" y="339" width="33" height="4"/><rect x="986" y="339" width="21" height="4"/><rect x="1052" y="339" width="9" height="4"/><rect x="1623" y="339" width="4" height="4"/><rect x="1677" y="339" width="16" height="4"/><rect x="1735" y="339" width="29" height="4"/><rect x="854" y="343" width="37" height="4"/><rect x="920" y="343" width="29" height="4"/><rect x="986" y="343" width="17" height="4"/><rect x="1057" y="343" width="4" height="4"/><rect x="1681" y="343" width="8" height="4"/><rect x="1735" y="343" width="25" height="4"/><rect x="1797" y="343" width="37" height="4"/><rect x="854" y="347" width="33" height="4"/><rect x="920" y="347" width="25" height="4"/><rect x="990" y="347" width="9" height="4"/><rect x="1685" y="347" width="4" height="4"/><rect x="1739" y="347" width="21" height="4"/><rect x="1797" y="347" width="33" height="4"/><rect x="858" y="351" width="29" height="4"/><rect x="924" y="351" width="21" height="4"/><rect x="995" y="351" width="4" height="4"/><rect x="1739" y="351" width="16" height="4"/><rect x="1801" y="351" width="29" height="4"/><rect x="858" y="355" width="25" height="4"/><rect x="924" y="355" width="17" height="4"/><rect x="1743" y="355" width="8" height="4"/><rect x="1801" y="355" width="25" height="4"/><rect x="1859" y="355" width="37" height="4"/><rect x="792" y="359" width="37" height="4"/><rect x="862" y="359" width="21" height="4"/><rect x="928" y="359" width="9" height="4"/><rect x="1747" y="359" width="4" height="4"/><rect x="1805" y="359" width="21" height="4"/><rect x="1859" y="359" width="33" height="4"/><rect x="792" y="363" width="33" height="4"/><rect x="862" y="363" width="17" height="4"/><rect x="933" y="363" width="4" height="4"/><rect x="1805" y="363" width="17" height="4"/><rect x="1863" y="363" width="29" height="4"/><rect x="796" y="367" width="29" height="5"/><rect x="866" y="367" width="9" height="5"/><rect x="1809" y="367" width="8" height="5"/><rect x="1863" y="367" width="25" height="5"/><rect x="796" y="372" width="25" height="4"/><rect x="871" y="372" width="4" height="4"/><rect x="1813" y="372" width="4" height="4"/><rect x="1867" y="372" width="21" height="4"/><rect x="1921" y="372" width="37" height="4"/><rect x="800" y="376" width="21" height="4"/><rect x="1867" y="376" width="17" height="4"/><rect x="1921" y="376" width="33" height="4"/><rect x="730" y="380" width="37" height="4"/><rect x="800" y="380" width="17" height="4"/><rect x="1871" y="380" width="9" height="4"/><rect x="1925" y="380" width="29" height="4"/><rect x="730" y="384" width="33" height="4"/><rect x="804" y="384" width="9" height="4"/><rect x="1875" y="384" width="5" height="4"/><rect x="1925" y="384" width="25" height="4"/><rect x="734" y="388" width="29" height="4"/><rect x="808" y="388" width="5" height="4"/><rect x="1929" y="388" width="21" height="4"/><rect x="734" y="392" width="25" height="4"/><rect x="1929" y="392" width="17" height="4"/><rect x="738" y="396" width="21" height="5"/><rect x="1933" y="396" width="9" height="5"/><rect x="664" y="401" width="37" height="4"/><rect x="738" y="401" width="17" height="4"/><rect x="1937" y="401" width="5" height="4"/><rect x="664" y="405" width="33" height="4"/><rect x="742" y="405" width="9" height="4"/><rect x="668" y="409" width="29" height="4"/><rect x="746" y="409" width="5" height="4"/><rect x="668" y="413" width="25" height="4"/><rect x="672" y="417" width="21" height="4"/><rect x="672" y="421" width="17" height="4"/><rect x="602" y="425" width="37" height="4"/><rect x="676" y="425" width="8" height="4"/><rect x="602" y="429" width="33" height="5"/><rect x="680" y="429" width="4" height="5"/><rect x="606" y="434" width="29" height="4"/><rect x="606" y="438" width="25" height="4"/><rect x="610" y="442" width="21" height="4"/><rect x="610" y="446" width="17" height="4"/><rect x="614" y="450" width="8" height="4"/><rect x="540" y="454" width="37" height="4"/><rect x="618" y="454" width="4" height="4"/><rect x="540" y="458" width="33" height="5"/><rect x="544" y="463" width="29" height="4"/><rect x="544" y="467" width="25" height="4"/><rect x="548" y="471" width="21" height="4"/><rect x="548" y="475" width="17" height="4"/><rect x="552" y="479" width="8" height="4"/><rect x="478" y="483" width="37" height="4"/><rect x="556" y="483" width="4" height="4"/><rect x="478" y="487" width="33" height="5"/><rect x="482" y="492" width="29" height="4"/><rect x="482" y="496" width="25" height="4"/><rect x="486" y="500" width="21" height="4"/><rect x="486" y="504" width="16" height="4"/><rect x="490" y="508" width="8" height="4"/><rect x="416" y="512" width="37" height="4"/><rect x="494" y="512" width="4" height="4"/><rect x="416" y="516" width="33" height="4"/><rect x="420" y="520" width="29" height="5"/><rect x="420" y="525" width="25" height="4"/><rect x="424" y="529" width="21" height="4"/><rect x="424" y="533" width="16" height="4"/><rect x="428" y="537" width="8" height="4"/><rect x="432" y="541" width="4" height="4"/></g>
<g fill="#008000"><rect x="1470" y="355" width="62" height="4"/><rect x="1280" y="359" width="190" height="4"/><rect x="1532" y="359" width="62" height="4"/><rect x="1234" y="363" width="46" height="4"/><rect x="1594" y="363" width="46" height="4"/><rect x="1201" y="367" width="33" height="5"/><rect x="1640" y="367" width="33" height="5"/><rect x="1172" y="372" width="29" height="4"/><rect x="1673" y="372" width="29" height="4"/><rect x="1139" y="376" width="33" height="4"/><rect x="1702" y="376" width="33" height="4"/><rect x="1114" y="380" width="25" height="4"/><rect x="1735" y="380" width="33" height="4"/><rect x="1090" y="384" width="24" height="4"/><rect x="1768" y="384" width="29" height="4"/><rect x="1069" y="388" width="21" height="4"/><rect x="1797" y="388" width="33" height="4"/><rect x="1048" y="392" width="21" height="4"/><rect x="1830" y="392" width="33" height="4"/><rect x="1028" y="396" width="20" height="5"/><rect x="1863" y="396" width="25" height="5"/><rect x="1007" y="401" width="21" height="4"/><rect x="1888" y="401" width="20" height="4"/><rect x="982" y="405" width="25" height="4"/><rect x="1908" y="405" width="21" height="4"/><rect x="949" y="409" width="33" height="4"/><rect x="1929" y="409" width="13" height="4"/><rect x="928" y="413" width="21" height="4"/><rect x="916" y="417" width="12" height="4"/><rect x="904" y="421" width="12" height="4"/><rect x="891" y="425" width="13" height="4"/><rect x="879" y="429" width="12" height="5"/><rect x="866" y="434" width="13" height="4"/><rect x="854" y="438" width="12" height="4"/><rect x="842" y="442" width="12" height="4"/><rect x="829" y="446" width="13" height="4"/><rect x="817" y="450" width="12" height="4"/><rect x="804" y="454" width="13" height="4"/><rect x="792" y="458" width="12" height="5"/><rect x="780" y="463" width="12" height="4"/><rect x="767" y="467" width="13" height="4"/><rect x="755" y="471" width="12" height="4"/><rect x="742" y="475" width="13" height="4"/><rect x="734" y="479" width="8" height="4"/><rect x="722" y="483" width="12" height="4"/><rect x="709" y="487" width="13" height="5"/><rect x="697" y="492" width="12" height="4"/><rect x="689" y="496" width="8" height="4"/><rect x="676" y="500" width="13" height="4"/><rect x="668" y="504" width="8" height="4"/><rect x="660" y="508" width="8" height="4"/><rect x="651" y="512" width="9" height="4"/><rect x="643" y="516" width="8" height="4"/><rect x="635" y="520" width="8" height="5"/><rect x="627" y="525" width="8" height="4"/><rect x="614" y="529" width="13" height="4"/><rect x="606" y="533" width="8" height="4"/><rect x="598" y="537" width="8" height="4"/><rect x="589" y="541" width="9" height="4"/><rect x="581" y="545" width="8" height="4"/><rect x="573" y="549" width="8" height="5"/><rect x="565" y="554" width="8" height="4"/><rect x="556" y="558" width="9" height="4"/><rect x="548" y="562" width="8" height="4"/><rect x="540" y="566" width="8" height="4"/><rect x="531" y="570" width="9" height="4"/><rect x="523" y="574" width="8" height="4"/><rect x="515" y="578" width="8" height="4"/><rect x="507" y="582" width="8" height="5"/><rect x="498" y="587" width="9" height="4"/><rect x="494" y="591" width="4" height="4"/><rect x="486" y="595" width="8" height="4"/><rect x="478" y="599" width="8" height="4"/><rect x="469" y="603" width="9" height="4"/><rect x="461" y="607" width="8" height="4"/><rect x="453" y="611" width="8" height="5"/><rect x="445" y="616" width="8" height="4"/><rect x="436" y="620" width="9" height="4"/><rect x="432" y="624" width="4" height="4"/></g>
<g fill="#008000"><rect x="1371" y="339" width="4" height="4"/><rect x="1433" y="339" width="4" height="4"/><rect x="1499" y="339" width="4" height="4"/><rect x="1309" y="343" width="4" height="4"/><rect x="1367" y="343" width="12" height="4"/><rect x="1429" y="343" width="12" height="4"/><rect x="1495" y="343" width="12" height="4"/><rect x="1561" y="343" width="4" height="4"/><rect x="1247" y="347" width="4" height="4"/><rect x="1305" y="347" width="12" height="4"/><rect x="1363" y="347" width="20" height="4"/><rect x="1425" y="347" width="20" height="4"/><rect x="1491" y="347" width="20" height="4"/><rect x="1557" y="347" width="12" height="4"/><rect x="1623" y="347" width="4" height="4"/><rect x="1243" y="351" width="12" height="4"/><rect x="1301" y="351" width="20" height="4"/><rect x="1358" y="351" width="29" height="4"/><rect x="1421" y="351" width="28" height="4"/><rect x="1487" y="351" width="29" height="4"/><rect x="1553" y="351" width="21" height="4"/><rect x="1619" y="351" width="12" height="4"/><rect x="1685" y="351" width="4" height="4"/><rect x="1185" y="355" width="4" height="4"/><rect x="1239" y="355" width="20" height="4"/><rect x="1296" y="355" width="29" height="4"/><rect x="1354" y="355" width="38" height="4"/><rect x="1416" y="355" width="38" height="4"/><rect x="1483" y="355" width="37" height="4"/><rect x="1549" y="355" width="29" height="4"/><rect x="1615" y="355" width="21" height="4"/><rect x="1681" y="355" width="12" height="4"/><rect x="1181" y="359" width="12" height="4"/><rect x="1234" y="359" width="29" height="4"/><rect x="1292" y="359" width="38" height="4"/><rect x="1354" y="359" width="38" height="4"/><rect x="1416" y="359" width="38" height="4"/><rect x="1483" y="359" width="37" height="4"/><rect x="1545" y="359" width="37" height="4"/><rect x="1611" y="359" width="29" height="4"/><rect x="1677" y="359" width="21" height="4"/><rect x="1747" y="359" width="4" height="4"/><rect x="1123" y="363" width="4" height="4"/><rect x="1177" y="363" width="20" height="4"/><rect x="1230" y="363" width="38" height="4"/><rect x="1292" y="363" width="38" height="4"/><rect x="1358" y="363" width="29" height="4"/><rect x="1421" y="363" width="28" height="4"/><rect x="1487" y="363" width="29" height="4"/><rect x="1545" y="363" width="37" height="4"/><rect x="1607" y="363" width="37" height="4"/><rect x="1673" y="363" width="29" height="4"/><rect x="1743" y="363" width="12" height="4"/><rect x="1119" y="367" width="12" height="5"/><rect x="1172" y="367" width="29" height="5"/><rect x="1230" y="367" width="38" height="5"/><rect x="1296" y="367" width="29" height="5"/><rect x="1363" y="367" width="20" height="5"/><rect x="1425" y="367" width="20" height="5"/><rect x="1491" y="367" width="20" height="5"/><rect x="1549" y="367" width="29" height="5"/><rect x="1607" y="367" width="37" height="5"/><rect x="1669" y="367" width="37" height="5"/><rect x="1739" y="367" width="21" height="5"/><rect x="1057" y="372" width="4" height="4"/><rect x="1114" y="372" width="21" height="4"/><rect x="1168" y="372" width="37" height="4"/><rect x="1234" y="372" width="29" height="4"/><rect x="1301" y="372" width="20" height="4"/><rect x="1367" y="372" width="12" height="4"/><rect x="1429" y="372" width="12" height="4"/><rect x="1495" y="372" width="12" height="4"/><rect x="1553" y="372" width="21" height="4"/><rect x="1611" y="372" width="29" height="4"/><rect x="1669" y="372" width="37" height="4"/><rect x="1735" y="372" width="29" height="4"/><rect x="1813" y="372" width="4" height="4"/><rect x="1052" y="376" width="13" height="4"/><rect x="1110" y="376" width="29" height="4"/><rect x="1168" y="376" width="37" height="4"/><rect x="1239" y="376" width="20" height="4"/><rect x="1305" y="376" width="12" height="4"/><rect x="1371" y="376" width="4" height="4"/><rect x="1433" y="376" width="4" height="4"/><rect x="1499" y="376" width="4" height="4"/><rect x="1557" y="376" width="12" height="4"/><rect x="1615" y="376" width="21" height="4"/><rect x="1673" y="376" width="29" height="4"/><rect x="1731" y="376" width="37" height="4"/><rect x="1809" y="376" width="13" height="4"/><rect x="1048" y="380" width="21" height="4"/><rect x="1106" y="380" width="37" height="4"/><rect x="1172" y="380" width="29" height="4"/><rect x="1243" y="380" width="12" height="4"/><rect x="1309" y="380" width="4" height="4"/><rect x="1561" y="380" width="4" height="4"/><rect x="1619" y="380" width="12" height="4"/><rect x="1677" y="380" width="21" height="4"/><rect x="1731" y="380" width="37" height="4"/><rect x="1805" y="380" width="21" height="4"/><rect x="1875" y="380" width="5" height="4"/><rect x="995" y="384" width="4" height="4"/><rect x="1044" y="384" width="29" height="4"/><rect x="1106" y="384" width="37" height="4"/><rect x="1177" y="384" width="20" height="4"/><rect x="1247" y="384" width="4" height="4"/><rect x="1623" y="384" width="4" height="4"/><rect x="1681" y="384" width="12" height="4"/><rect x="1735" y="384" width="29" height="4"/><rect x="1801" y="384" width="29" height="4"/><rect x="1871" y="384" width="13" height="4"/><rect x="990" y="388" width="13" height="4"/><rect x="1040" y="388" width="37" height="4"/><rect x="1110" y="388" width="29" height="4"/><rect x="1181" y="388" width="12" height="4"/><rect x="1685" y="388" width="4" height="4"/><rect x="1739" y="388" width="21" height="4"/><rect x="1797" y="388" width="37" height="4"/><rect x="1867" y="388" width="21" height="4"/><rect x="986" y="392" width="21" height="4"/><rect x="1040" y="392" width="37" height="4"/><rect x="1114" y="392" width="21" height="4"/><rect x="1185" y="392" width="4" height="4"/><rect x="1743" y="392" width="12" height="4"/><rect x="1797" y="392" width="37" height="4"/><rect x="1863" y="392" width="29" height="4"/><rect x="1937" y="392" width="5" height="4"/><rect x="933" y="396" width="4" height="5"/><rect x="982" y="396" width="29" height="5"/><rect x="1044" y="396" width="29" height="5"/><rect x="1119" y="396" width="12" height="5"/><rect x="1747" y="396" width="4" height="5"/><rect x="1801" y="396" width="29" height="5"/><rect x="1859" y="396" width="37" height="5"/><rect x="1933" y="396" width="13" height="5"/><rect x="928" y="401" width="13" height="4"/><rect x="978" y="401" width="37" height="4"/><rect x="1048" y="401" width="21" height="4"/><rect x="1123" y="401" width="4" height="4"/><rect x="1805" y="401" width="21" height="4"/><rect x="1859" y="401" width="37" height="4"/><rect x="1929" y="401" width="21" height="4"/><rect x="924" y="405" width="21" height="4"/><rect x="978" y="405" width="37" height="4"/><rect x="1052" y="405" width="13" height="4"/><rect x="1809" y="405" width="13" height="4"/><rect x="1863" y="405" width="29" height="4"/><rect x="1925" y="405" width="29" height="4"/><rect x="920" y="409" width="29" height="4"/><rect x="982" y="409" width="29" height="4"/><rect x="1057" y="409" width="4" height="4"/><rect x="1813" y="409" width="4" height="4"/><rect x="1867" y="409" width="21" height="4"/><rect x="1921" y="409" width="37" height="4"/><rect x="916" y="413" width="37" height="4"/><rect x="986" y="413" width="21" height="4"/><rect x="1871" y="413" width="13" height="4"/><rect x="1921" y="413" width="37" height="4"/><rect x="871" y="417" width="4" height="4"/><rect x="916" y="417" width="37" height="4"/><rect x="990" y="417" width="13" height="4"/><rect x="1875" y="417" width="5" height="4"/><rect x="1925" y="417" width="29" height="4"/><rect x="866" y="421" width="13" height="4"/><rect x="920" y="421" width="29" height="4"/><rect x="995" y="421" width="4" height="4"/><rect x="1929" y="421" width="21" height="4"/><rect x="862" y="425" width="21" height="4"/><rect x="924" y="425" width="21" height="4"/><rect x="1933" y="425" width="13" height="4"/><rect x="858" y="429" width="29" height="5"/><rect x="928" y="429" width="13" height="5"/><rect x="1937" y="429" width="5" height="5"/><rect x="808" y="434" width="5" height="4"/><rect x="854" y="434" width="37" height="4"/><rect x="933" y="434" width="4" height="4"/><rect x="804" y="438" width="13" height="4"/><rect x="854" y="438" width="37" height="4"/><rect x="800" y="442" width="21" height="4"/><rect x="858" y="442" width="29" height="4"/><rect x="796" y="446" width="29" height="4"/><rect x="862" y="446" width="21" height="4"/><rect x="792" y="450" width="37" height="4"/><rect x="866" y="450" width="13" height="4"/><rect x="746" y="454" width="5" height="4"/><rect x="792" y="454" width="37" height="4"/><rect x="871" y="454" width="4" height="4"/><rect x="742" y="458" width="13" height="5"/><rect x="796" y="458" width="29" height="5"/><rect x="738" y="463" width="21" height="4"/><rect x="800" y="463" width="21" height="4"/><rect x="734" y="467" width="29" height="4"/><rect x="804" y="467" width="13" height="4"/><rect x="730" y="471" width="37" height="4"/><rect x="808" y="471" width="5" height="4"/><rect x="730" y="475" width="37" height="4"/><rect x="680" y="479" width="4" height="4"/><rect x="734" y="479" width="29" height="4"/><rect x="676" y="483" width="13" height="4"/><rect x="738" y="483" width="21" height="4"/><rect x="672" y="487" width="21" height="5"/><rect x="742" y="487" width="13" height="5"/><rect x="668" y="492" width="29" height="4"/><rect x="746" y="492" width="5" height="4"/><rect x="664" y="496" width="37" height="4"/><rect x="664" y="500" width="37" height="4"/><rect x="668" y="504" width="29" height="4"/><rect x="618" y="508" width="4" height="4"/><rect x="672" y="508" width="21" height="4"/><rect x="614" y="512" width="13" height="4"/><rect x="676" y="512" width="13" height="4"/><rect x="610" y="516" width="21" height="4"/><rect x="680" y="516" width="4" height="4"/><rect x="606" y="520" width="29" height="5"/><rect x="602" y="525" width="37" height="4"/><rect x="602" y="529" width="37" height="4"/><rect x="606" y="533" width="29" height="4"/><rect x="610" y="537" width="21" height="4"/><rect x="556" y="541" width="4" height="4"/><rect x="614" y="541" width="13" height="4"/><rect x="552" y="545" width="13" height="4"/><rect x="618" y="545" width="4" height="4"/><rect x="548" y="549" width="21" height="5"/><rect x="544" y="554" width="29" height="4"/><rect x="540" y="558" width="37" height="4"/><rect x="540" y="562" width="37" height="4"/><rect x="544" y="566" width="29" height="4"/><rect x="494" y="570" width="4" height="4"/><rect x="548" y="570" width="21" height="4"/><rect x="490" y="574" width="12" height="4"/><rect x="552" y="574" width="13" height="4"/><rect x="486" y="578" width="21" height="4"/><rect x="556" y="578" width="4" height="4"/><rect x="482" y="582" width="29" height="5"/><rect x="478" y="587" width="37" height="4"/><rect x="478" y="591" width="37" height="4"/><rect x="482" y="595" width="29" height="4"/><rect x="486" y="599" width="21" height="4"/><rect x="490" y="603" width="12" height="4"/><rect x="432" y="607" width="4" height="4"/><rect x="494" y="607" width="4" height="4"/><rect x="428" y="611" width="12" height="5"/><rect x="424" y="616" width="21" height="4"/><rect x="420" y="620" width="29" height="4"/><rect x="416" y="624" width="37" height="4"/><rect x="416" y="628" width="37" height="4"/><rect x="420" y="632" width="29" height="4"/><rect x="424" y="636" width="21" height="4"/><rect x="428" y="640" width="12" height="5"/><rect x="432" y="645" width="4" height="4"/></g>
<rect x="1501" y="903" width="451" height="429" fill="#fff" stroke="#000" stroke-width="4"/>
<rect x="1536" y="959.0" width="149" height="4" fill="#000000"/>
<g fill="#000000"><rect x="1594" y="946" width="33" height="5"/><rect x="1594" y="951" width="33" height="4"/><rect x="1594" y="955" width="33" height="4"/><rect x="1594" y="959" width="33" height="4"/><rect x="1594" y="963" width="33" height="4"/><rect x="1594" y="967" width="33" height="4"/><rect x="1594" y="971" width="33" height="4"/></g>
<text x="1697.6" y="983.7" textLength="239.3" lengthAdjust="spacingAndGlyphs" class="lg lk" filter="url(#ct)">7.5MPa</text>
<rect x="1536" y="1041.4" width="149" height="4" fill="#ff0000"/>
<g fill="#ff0000"><rect x="1602" y="1029" width="17" height="4"/><rect x="1598" y="1033" width="25" height="4"/><rect x="1594" y="1037" width="33" height="5"/><rect x="1594" y="1042" width="33" height="4"/><rect x="1594" y="1046" width="33" height="4"/><rect x="1594" y="1050" width="33" height="4"/><rect x="1598" y="1054" width="25" height="4"/><rect x="1602" y="1058" width="17" height="4"/></g>
<text x="1697.6" y="1066.1" textLength="239.3" lengthAdjust="spacingAndGlyphs" class="lg lk" filter="url(#ct)">7.6MPa</text>
<rect x="1536" y="1124.2" width="149" height="4" fill="#0000ff"/>
<g fill="#0000ff"><rect x="1611" y="1108" width="4" height="4"/><rect x="1607" y="1112" width="8" height="4"/><rect x="1602" y="1116" width="17" height="4"/><rect x="1602" y="1120" width="21" height="4"/><rect x="1598" y="1124" width="25" height="4"/><rect x="1598" y="1128" width="29" height="4"/><rect x="1594" y="1132" width="33" height="5"/><rect x="1594" y="1137" width="37" height="4"/></g>
<text x="1697.6" y="1148.9" textLength="239.3" lengthAdjust="spacingAndGlyphs" class="lg lk" filter="url(#ct)">7.7MPa</text>
<rect x="1536" y="1206.9" width="149" height="4" fill="#ff00ff"/>
<g fill="#ff00ff"><rect x="1594" y="1199" width="37" height="4"/><rect x="1594" y="1203" width="33" height="4"/><rect x="1598" y="1207" width="29" height="4"/><rect x="1598" y="1211" width="25" height="4"/><rect x="1602" y="1215" width="21" height="4"/><rect x="1602" y="1219" width="17" height="4"/><rect x="1607" y="1223" width="8" height="5"/><rect x="1611" y="1228" width="4" height="4"/></g>
<text x="1697.6" y="1231.6" textLength="239.3" lengthAdjust="spacingAndGlyphs" class="lg lk" filter="url(#ct)">7.8MPa</text>
<rect x="1536" y="1289.3" width="149" height="4" fill="#008000"/>
<g fill="#008000"><rect x="1611" y="1273" width="4" height="4"/><rect x="1607" y="1277" width="12" height="4"/><rect x="1602" y="1281" width="21" height="4"/><rect x="1598" y="1285" width="29" height="5"/><rect x="1594" y="1290" width="37" height="4"/><rect x="1594" y="1294" width="37" height="4"/><rect x="1598" y="1298" width="29" height="4"/><rect x="1602" y="1302" width="21" height="4"/><rect x="1607" y="1306" width="12" height="4"/><rect x="1611" y="1310" width="4" height="4"/></g>
<text x="1697.6" y="1314.0" textLength="239.3" lengthAdjust="spacingAndGlyphs" class="lg lk" filter="url(#ct)">7.9MPa</text>
</svg>
</body></html>
